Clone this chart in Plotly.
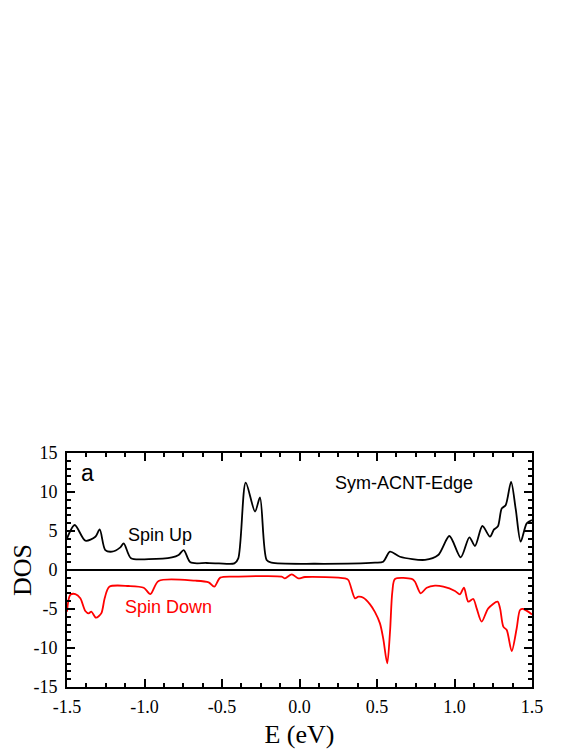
"""Spin-resolved DOS of Sym-ACNT-Edge, spin up above zero and spin down below"""

import plotly.graph_objects as go

# energies (eV) and DOS
e_up = [-1.5, -1.45, -1.382, -1.317, -1.289, -1.253, -1.21, -1.156, -1.134, -1.087,
        -0.973, -0.823, -0.78, -0.747, -0.704, -0.6, -0.52, -0.42, -0.395, -0.347,
        -0.287, -0.255, -0.212, -0.18, 0.1, 0.487, 0.54, 0.584, 0.648, 0.81,
        0.895, 0.967, 1.04, 1.096, 1.132, 1.18, 1.229, 1.255, 1.28, 1.305,
        1.33, 1.365, 1.395, 1.427, 1.466, 1.5]
dos_up = [4.06, 5.77, 3.76, 4.27, 5.2, 2.56, 2.35, 2.9, 3.42, 1.5,
          1.4, 1.62, 1.92, 2.56, 0.98, 0.9, 0.85, 0.85, 1.5, 11.2,
          7.5, 9.3, 1.28, 0.94, 0.8, 0.94, 1.07, 2.35, 1.7, 1.3,
          1.92, 4.36, 1.62, 4.19, 3.08, 5.64, 4.27, 5.2, 5.6, 7.9,
          8.3, 11.3, 7.8, 3.63, 5.98, 6.4]

e_down = [-1.5, -1.479, -1.446, -1.414, -1.382, -1.36, -1.343, -1.313, -1.279, -1.257,
          -1.227, -1.102, -1.005, -0.962, -0.909, -0.672, -0.586, -0.55, -0.511, -0.4,
          -0.115, -0.094, -0.05, -0.008, 0.035, 0.294, 0.315, 0.358, 0.38, 0.412,
          0.455, 0.487, 0.519, 0.54, 0.566, 0.584, 0.599, 0.616, 0.724, 0.745,
          0.782, 0.821, 0.874, 0.928, 1.003, 1.035, 1.061, 1.089, 1.121, 1.143,
          1.175, 1.218, 1.278, 1.294, 1.315, 1.337, 1.369, 1.401, 1.423, 1.444,
          1.5]
dos_down = [-5.34, -3.2, -3.08, -3.63, -5.26, -5.56, -5.34, -6.11, -5.56, -3.63,
            -2.14, -2.05, -2.27, -3.08, -1.41, -1.37, -1.58, -2.14, -0.98, -0.85,
            -0.85, -1.07, -0.55, -1.07, -0.9, -1.07, -1.28, -3.63, -3.42, -3.55,
            -4.4, -5.4, -6.84, -8.76, -11.97, -7.9, -2.78, -1.15, -1.15, -1.5,
            -2.99, -2.27, -2.01, -2.14, -2.69, -3.12, -2.27, -4.06, -3.72, -4.92,
            -6.62, -4.92, -4.06, -4.92, -7.26, -7.7, -10.4, -7.5, -5.13, -5.0,
            -5.7]

x_ticks = [-1.5, -1.0, -0.5, 0.0, 0.5, 1.0, 1.5]
x_tick_labels = ["-1.5", "-1.0", "-0.5", "0.0", "0.5", "1.0", "1.5"]
y_ticks = [-15, -10, -5, 0, 5, 10, 15]
y_tick_labels = ["-15", "-10", "-5", "0", "5", "10", "15"]

fig = go.Figure()
fig.add_trace(go.Scatter(x=e_up, y=dos_up, mode="lines",
                         line=dict(color="black", width=1.8, shape="spline", smoothing=0.8)))
fig.add_trace(go.Scatter(x=e_down, y=dos_down, mode="lines",
                         line=dict(color="red", width=1.8, shape="spline", smoothing=0.8)))

sans = "Liberation Sans, Arial, sans-serif"
fig.add_annotation(x=-1.365, y=12.4, text="a", showarrow=False,
                   font=dict(family=sans, size=23, color="black"))
fig.add_annotation(x=-0.897, y=4.5, text="Spin Up", showarrow=False,
                   font=dict(family=sans, size=18, color="black"))
fig.add_annotation(x=-0.848, y=-4.74, text="Spin Down", showarrow=False,
                   font=dict(family=sans, size=18, color="red"))
fig.add_annotation(x=0.674, y=11.15, text="Sym-ACNT-Edge", showarrow=False,
                   font=dict(family=sans, size=18, color="black"))

serif = "Liberation Serif, Times New Roman, serif"
axis_common = dict(
    showline=True, linecolor="black", linewidth=2, mirror="allticks",
    ticks="inside", ticklen=8, tickwidth=1.5, tickcolor="black",
    showgrid=False, automargin=False,
    tickfont=dict(family=serif, size=18, color="black"),
)

fig.update_xaxes(
    range=[-1.5, 1.5], tickvals=x_ticks, ticktext=x_tick_labels, ticklabelstandoff=2,
    minor=dict(dtick=0.125, ticks="inside", ticklen=4, tickwidth=1.5, tickcolor="black", showgrid=False),
    title=dict(text="E (eV)", font=dict(family=serif, size=26, color="black"), standoff=9),
    zeroline=False, **axis_common,
)
fig.update_yaxes(
    range=[-15, 15], tickvals=y_ticks, ticktext=y_tick_labels, ticklabelstandoff=4,
    minor=dict(dtick=1, ticks="inside", ticklen=4, tickwidth=1.5, tickcolor="black", showgrid=False),
    title=dict(text="DOS", font=dict(family=serif, size=26, color="black"), standoff=11),
    zeroline=True, zerolinecolor="black", zerolinewidth=1.5, **axis_common,
)

# the page body adds an 8 px margin, so the figure is 8 px smaller each way
fig.update_layout(
    width=573, height=744,
    margin=dict(l=59, r=49, t=445, b=65),
    plot_bgcolor="white", paper_bgcolor="white",
    showlegend=False,
)

fig.write_html("out.html")
